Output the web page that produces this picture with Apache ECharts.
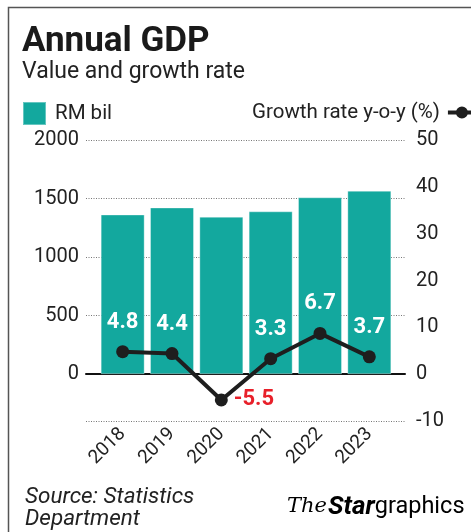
<!DOCTYPE html>
<html>
<head>
<meta charset="utf-8">
<script src="https://cdn.jsdelivr.net/npm/echarts@6/dist/echarts.min.js"></script>
<style>
html,body{margin:0;padding:0;background:#fff;}
#chart{width:471px;height:532px;}
</style>
</head>
<body>
<div id="chart"></div>
<script>
// ---- data ----
const years = ['2018', '2019', '2020', '2021', '2022', '2023'];
const gdpRmBil = [1364, 1424, 1345, 1391, 1511, 1567];
const growthPct = [4.8, 4.4, -5.5, 3.3, 8.7, 3.7];
const growthLabels = ['4.8', '4.4', '-5.5', '3.3', '6.7', '3.7'];
const leftTicks = [0, 500, 1000, 1500, 2000];
const rightTicks = [-10, 0, 10, 20, 30, 40, 50];

const TEAL = '#13a89e';
const FONT = 'Roboto';

const chart = echarts.init(document.getElementById('chart'), null, {renderer: 'canvas'});

const lineData = growthPct.map((v, i) => {
  const neg = v < 0;
  return {
    value: v,
    label: {
      show: true,
      formatter: growthLabels[i],
      position: neg ? 'right' : 'top',
      distance: neg ? 6 : 12,
      color: neg ? '#e8202a' : '#ffffff',
      fontSize: 22,
      fontWeight: 'bold',
      fontFamily: FONT
    }
  };
});

const option = {
  animation: false,
  backgroundColor: '#ffffff',
  title: [
    {
      text: 'Annual GDP',
      subtext: 'Value and growth rate',
      left: 17,
      top: 20,
      itemGap: 1,
      textStyle: {fontFamily: FONT, fontSize: 35, fontWeight: 'bold', color: '#1a1a1a'},
      subtextStyle: {fontFamily: FONT, fontSize: 23, color: '#222'}
    },
    {
      text: 'Source: Statistics\nDepartment',
      left: 20,
      top: 481,
      textStyle: {fontFamily: FONT, fontSize: 22.5, fontStyle: 'italic', fontWeight: 'normal', color: '#222', lineHeight: 22}
    }
  ],
  legend: [
    {
      data: ['RM bil'],
      left: 17,
      top: 96,
      icon: 'rect',
      itemWidth: 23,
      itemHeight: 23,
      textStyle: {fontFamily: FONT, fontSize: 20.5, color: '#222', padding: [0, 0, 0, 4]}
    },
    {
      data: [{
        name: 'Growth rate y-o-y (%)',
        icon: 'path://M0,4L34,4L34,8L0,8Z M8,6A6,6 0 1 1 20,6A6,6 0 1 1 8,6Z'
      }],
      left: 247,
      top: 97,
      align: 'right',
      itemWidth: 34,
      itemHeight: 12,
      textStyle: {fontFamily: FONT, fontSize: 20.5, color: '#222', padding: [0, 3, 0, 0]}
    }
  ],
  grid: [
    {left: 86, right: 66, top: 140, bottom: 111, containLabel: false},
    {left: 98, right: 77, top: 140, bottom: 111, containLabel: false}
  ],
  xAxis: [
    {
      type: 'value', gridIndex: 0, min: 0, max: 1,
      axisLine: {show: true, onZero: true, lineStyle: {color: '#111', width: 2}},
      axisTick: {show: false}, axisLabel: {show: false}, splitLine: {show: false}
    },
    {
      type: 'category', gridIndex: 1, data: years,
      axisLine: {show: false}, axisTick: {show: false},
      axisLabel: {rotate: 45, fontFamily: FONT, fontSize: 19, color: '#222', margin: 10, interval: 0}
    }
  ],
  yAxis: [
    {
      type: 'value', gridIndex: 0, min: -400, max: 2000,
      axisLine: {show: false}, axisTick: {show: false},
      axisLabel: {
        fontFamily: FONT, fontSize: 20, color: '#222', margin: 7,
        formatter: v => (leftTicks.indexOf(v) >= 0 ? String(v) : '')
      },
      splitLine: {show: true, lineStyle: {color: '#777', type: [1, 1.5], width: 1}}
    },
    {
      type: 'value', gridIndex: 1, min: -400, max: 2000, show: false,
      splitLine: {show: false}
    },
    {
      type: 'value', gridIndex: 1, position: 'right', min: rightTicks[0], max: rightTicks[rightTicks.length - 1], interval: 10,
      axisLine: {show: false}, axisTick: {show: false}, splitLine: {show: false},
      axisLabel: {fontFamily: FONT, fontSize: 20, color: '#222', margin: 22}
    }
  ],
  series: [
    {
      name: 'axes', type: 'scatter', xAxisIndex: 0, yAxisIndex: 0, data: [], silent: true
    },
    {
      name: 'RM bil', type: 'bar', xAxisIndex: 1, yAxisIndex: 1,
      data: gdpRmBil, barWidth: 44,
      itemStyle: {color: TEAL, borderColor: 'rgba(255,255,255,0.35)', borderWidth: 1}
    },
    {
      name: 'Growth rate y-o-y (%)', type: 'line', xAxisIndex: 1, yAxisIndex: 2,
      data: lineData, symbol: 'circle', symbolSize: 13,
      lineStyle: {color: '#1e1e1e', width: 4},
      itemStyle: {color: '#1e1e1e'},
      z: 5
    }
  ],
  graphic: [
    {
      type: 'polyline',
      shape: {points: [[8.5, 540], [8.5, 7.5], [480, 7.5]]},
      style: {stroke: '#555', lineWidth: 1.5, fill: null},
      silent: true
    },
    {
      type: 'text',
      left: 287,
      top: 494,
      style: {
        text: '{a|The}{b|Star}{c|graphics}',
        rich: {
          a: {fontFamily: 'DejaVu Serif', fontStyle: 'italic', fontSize: 21, color: '#111', padding: [0, 1, 0, 0]},
          b: {fontFamily: 'Roboto', fontStyle: 'italic', fontWeight: 'bold', fontSize: 26, color: '#e3212b'},
          c: {fontFamily: 'Roboto', fontSize: 23.5, color: '#333'}
        }
      }
    }
  ]
};

chart.setOption(option);
</script>
</body>
</html>
